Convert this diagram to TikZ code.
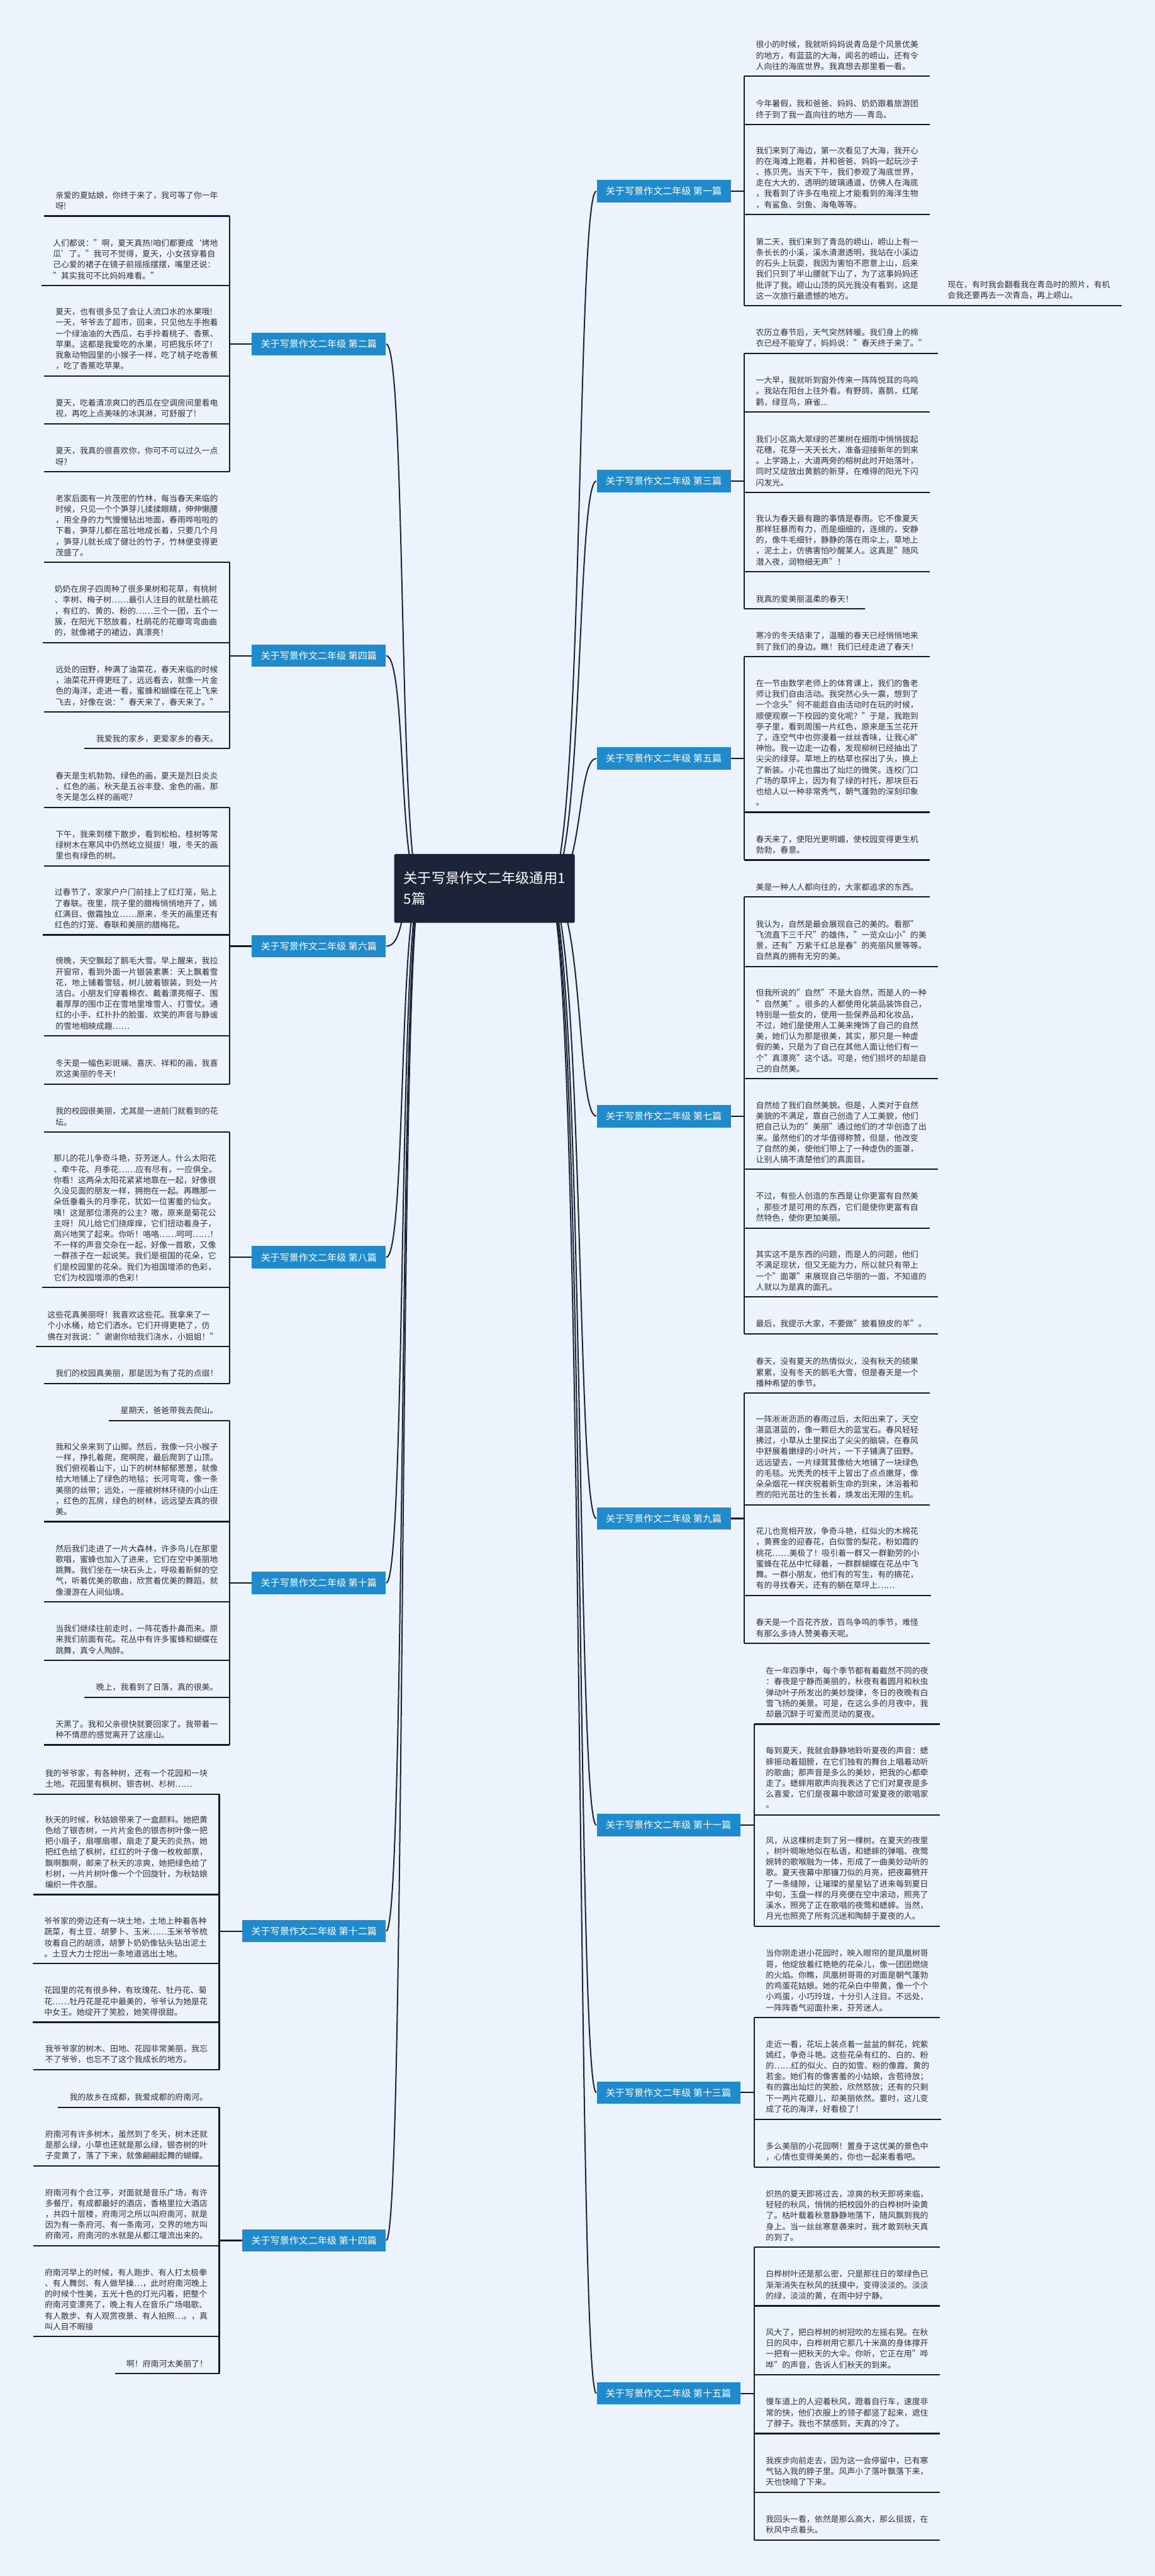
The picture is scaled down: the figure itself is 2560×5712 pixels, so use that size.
\documentclass[tikz,border=0pt]{standalone}
\usepackage{fontspec}
\setmainfont{Noto Sans CJK SC}
\definecolor{paper}{RGB}{237,243,253}
\definecolor{tagblue}{RGB}{32,139,204}
\definecolor{rootnavy}{RGB}{27,36,56}
\definecolor{inkline}{RGB}{22,24,40}
\definecolor{leaftext}{RGB}{50,50,50}
\pgfdeclarelayer{back}
\pgfsetlayers{back,main}
\tikzset{
  leafbox/.style={inner xsep=2.5mm, inner ysep=1.3mm, align=left, text=leaftext, font=\fontsize{5.12pt}{6.83pt}\selectfont},
  leafR/.style={leafbox, anchor=south west},
  leafL/.style={leafbox, anchor=south east},
  tagbox/.style={fill=tagblue, text=white, inner xsep=2mm, inner ysep=1.5mm, font=\fontsize{5.98pt}{7pt}\selectfont},
  tagR/.style={tagbox, anchor=west},
  tagL/.style={tagbox, anchor=east},
  rootbox/.style={fill=rootnavy, text=white, align=left, inner xsep=2.1mm, inner ysep=3.9mm, rounded corners=0.4mm, font=\fontsize{8.82pt}{13.1pt}\selectfont},
  uline/.style={draw=inkline, line width=0.85pt},
  crv/.style={draw=rootnavy, line width=0.8pt}
}
\begin{document}
\begin{tikzpicture}[x=0.01cm,y=-0.01cm]
\begin{pgfonlayer}{back}
\fill[paper] (0,0) rectangle (2560,5712);
\end{pgfonlayer}
\node[rootbox] (root) at (1074,1970) {关于写景作文二年级通用1\\5篇};

\node[tagR] (b1) at (1322,424) {关于写景作文二年级 第一篇};
\node[tagL] (b2) at (856,763) {关于写景作文二年级 第二篇};
\node[tagR] (b3) at (1322,1067) {关于写景作文二年级 第三篇};
\node[tagL] (b4) at (856,1454) {关于写景作文二年级 第四篇};
\node[tagR] (b5) at (1322,1682) {关于写景作文二年级 第五篇};
\node[tagL] (b6) at (856,2098) {关于写景作文二年级 第六篇};
\node[tagR] (b7) at (1322,2475) {关于写景作文二年级 第七篇};
\node[tagL] (b8) at (856,2788) {关于写景作文二年级 第八篇};
\node[tagR] (b9) at (1322,3367) {关于写景作文二年级 第九篇};
\node[tagL] (b10) at (856,3510) {关于写景作文二年级 第十篇};
\node[tagR] (b11) at (1322,4047) {关于写景作文二年级 第十一篇};
\node[tagL] (b12) at (856,4282) {关于写景作文二年级 第十二篇};
\node[tagR] (b13) at (1322,4640) {关于写景作文二年级 第十三篇};
\node[tagL] (b14) at (856,4968) {关于写景作文二年级 第十四篇};
\node[tagR] (b15) at (1322,5307) {关于写景作文二年级 第十五篇};

\node[leafR] (r1a) at (1650,169) {很小的时候，我就听妈妈说青岛是个风景优美\\的地方，有蓝蓝的大海，闻名的崂山，还有令\\人向往的海底世界。我真想去那里看一看。};
\node[leafR] (r1b) at (1650,276) {今年暑假，我和爸爸、妈妈、奶奶跟着旅游团\\终于到了我一直向往的地方——青岛。};
\node[leafR] (r1c) at (1650,476) {我们来到了海边，第一次看见了大海，我开心\\的在海滩上跑着，并和爸爸、妈妈一起玩沙子\\、拣贝壳。当天下午，我们参观了海底世界，\\走在大大的、透明的玻璃通道，仿佛人在海底\\，我看到了许多在电视上才能看到的海洋生物\\，有鲨鱼、剑鱼、海龟等等。};
\node[leafR] (r1d) at (1650,678) {第二天，我们来到了青岛的崂山，崂山上有一\\条长长的小溪，溪水清澈透明，我站在小溪边\\的石头上玩耍，我因为害怕不愿意上山，后来\\我们只到了半山腰就下山了，为了这事妈妈还\\批评了我。崂山山顶的风光我没有看到，这是\\这一次旅行最遗憾的地方。};
\node[leafR] (r1x) at (2075,678) {现在，有时我会翻看我在青岛时的照片，有机\\会我还要再去一次青岛，再上崂山。};

\node[leafR] (r3a) at (1650,784) {农历立春节后，天气突然转暖。我们身上的棉\\衣已经不能穿了，妈妈说："春天终于来了。"};
\node[leafR] (r3b) at (1650,914) {一大早，我就听到窗外传来一阵阵悦耳的鸟鸣\\。我站在阳台上往外看。有野鸽，喜鹊，红尾\\鹳，绿豆鸟，麻雀...};
\node[leafR] (r3c) at (1650,1092) {我们小区高大翠绿的芒果树在细雨中悄悄拔起\\花穗，花芽一天天长大，准备迎接新年的到来\\。上学路上，大道两旁的榕树此时开始落叶，\\同时又绽放出黄鹅的新芽，在难得的阳光下闪\\闪发光。};
\node[leafR] (r3d) at (1650,1268) {我认为春天最有趣的事情是春雨。它不像夏天\\那样狂暴而有力，而是细细的，连绵的，安静\\的，像牛毛细针，静静的落在雨伞上，草地上\\，泥土上，仿佛害怕吵醒某人。这真是"随风\\潜入夜，润物细无声"！};
\node[leafR] (r3e) at (1650,1350) {我真的爱美丽温柔的春天！};

\node[leafR] (r5a) at (1650,1456) {寒冷的冬天结束了，温暖的春天已经悄悄地来\\到了我们的身边。瞧！我们已经走进了春天！};
\node[leafR] (r5b) at (1650,1801) {在一节由数学老师上的体育课上，我们的鲁老\\师让我们自由活动。我突然心头一震，想到了\\一个念头"何不能趁自由活动时在玩的时候，\\顺便观察一下校园的变化呢？"于是，我跑到\\亭子里，看到周围一片红色，原来是玉兰花开\\了，连空气中也弥漫着一丝丝香味，让我心旷\\神怡。我一边走一边看，发现柳树已经抽出了\\尖尖的绿芽。草地上的枯草也探出了头，换上\\了新装。小花也露出了灿烂的微笑。连校门口\\广场的草坪上，因为有了绿的衬托，那块巨石\\也给人以一种非常秀气，朝气蓬勃的深刻印象\\。};
\node[leafR] (r5c) at (1650,1907) {春天来了，使阳光更明媚，使校园变得更生机\\勃勃，春意。};

\node[leafR] (r7a) at (1650,1989) {美是一种人人都向往的，大家都追求的东西。};
\node[leafR] (r7b) at (1650,2143) {我认为，自然是最会展现自己的美的。看那"\\飞流直下三千尺"的雄伟，"一览众山小"的美\\景，还有"万紫千红总是春"的亮丽风景等等。\\自然真的拥有无穷的美。};
\node[leafR] (r7c) at (1650,2392) {但我所说的"自然"不是大自然，而是人的一种\\"自然美"。很多的人都使用化装品装饰自己，\\特别是一些女的，使用一些保养品和化妆品，\\不过，她们是使用人工美来掩饰了自己的自然\\美，她们认为那是很美，其实，那只是一种虚\\假的美，只是为了自己在其他人面让他们有一\\个"真漂亮"这个话。可是，他们损坏的却是自\\己的自然美。};
\node[leafR] (r7d) at (1650,2593) {自然给了我们自然美貌。但是，人类对于自然\\美貌的不满足，靠自己创造了人工美貌，他们\\把自己认为的"美丽"通过他们的才华创造了出\\来。虽然他们的才华值得称赞，但是，他改变\\了自然的美，使他们带上了一种虚伪的面罩，\\让别人搞不清楚他们的真面目。};
\node[leafR] (r7e) at (1650,2723) {不过，有些人创造的东西是让你更富有自然美\\，那些才是可用的东西，它们是使你更富有自\\然特色，使你更加美丽。};
\node[leafR] (r7f) at (1650,2876) {其实这不是东西的问题，而是人的问题，他们\\不满足现状，但又无能为力，所以就只有带上\\一个"面罩"来展现自己华丽的一面，不知道的\\人就以为是真的面孔。};
\node[leafR] (r7g) at (1650,2958) {最后，我提示大家，不要做"披着狼皮的羊"。};

\node[leafR] (r9a) at (1650,3089) {春天，没有夏天的热情似火，没有秋天的硕果\\累累，没有冬天的鹅毛大雪，但是春天是一个\\播种希望的季节。};
\node[leafR] (r9b) at (1650,3337) {一阵淅淅沥沥的春雨过后，太阳出来了，天空\\湛蓝湛蓝的，像一颗巨大的蓝宝石。春风轻轻\\拂过，小草从土里探出了尖尖的脑袋，在春风\\中舒展着嫩绿的小叶片，一下子铺满了田野。\\远远望去，一片绿茸茸像给大地铺了一块绿色\\的毛毯。光秃秃的枝干上冒出了点点嫩芽，像\\朵朵烟花一样庆祝着新生命的到来，沐浴着和\\煦的阳光茁壮的生长着，焕发出无限的生机。};
\node[leafR] (r9c) at (1650,3538) {花儿也竞相开放，争奇斗艳，红似火的木棉花\\，黄赛金的迎春花，白似雪的梨花，粉如霞的\\桃花……美极了！吸引着一群又一群勤劳的小\\蜜蜂在花丛中忙碌着，一群群蝴蝶在花丛中飞\\舞。一群小朋友，他们有的写生，有的摘花，\\有的寻找春天，还有的躺在草坪上……};
\node[leafR] (r9d) at (1650,3644) {春天是一个百花齐放，百鸟争鸣的季节，难怪\\有那么多诗人赞美春天呢。};

\node[leafR] (r11a) at (1672,3823) {在一年四季中，每个季节都有着截然不同的夜\\：春夜是宁静而美丽的，秋夜有着圆月和秋虫\\弹动叶子所发出的美妙旋律，冬日的夜晚有白\\雪飞扬的美景。可是，在这么多的月夜中，我\\却最沉醉于可爱而灵动的夏夜。};
\node[leafR] (r11b) at (1672,4024) {每到夏天，我就会静静地聆听夏夜的声音：蟋\\蟀振动着翅膀，在它们独有的舞台上唱着动听\\的歌曲；那声音是多么的美妙，把我的心都牵\\走了。蟋蟀用歌声向我表达了它们对夏夜是多\\么喜爱，它们是夜幕中歌颂可爱夏夜的歌唱家\\。};
\node[leafR] (r11c) at (1672,4271) {风，从这棵树走到了另一棵树。在夏天的夜里\\，树叶啁啾地似在私语，和蟋蟀的弹唱、夜莺\\婉转的歌喉融为一体，形成了一曲美妙动听的\\歌。夏天夜幕中那镰刀似的月亮，把夜幕劈开\\了一条缝隙，让璀璨的星星钻了进来每到夏日\\中旬，玉盘一样的月亮便在空中滚动，照亮了\\溪水，照亮了正在歌唱的夜莺和蟋蟀。当然，\\月光也照亮了所有沉迷和陶醉于夏夜的人。};

\node[leafR] (r13a) at (1672,4474) {当你刚走进小花园时，映入眼帘的是凤凰树哥\\哥，他绽放着红艳艳的花朵儿，像一团团燃烧\\的火焰。你瞧，凤凰树哥哥的对面是朝气蓬勃\\的鸡蛋花姑娘。她的花朵白中带黄，像一个个\\小鸡蛋，小巧玲珑，十分引人注目。不远处，\\一阵阵香气迎面扑来，芬芳迷人。};
\node[leafR] (r13b) at (1672,4699) {走近一看，花坛上装点着一盆盆的鲜花，姹紫\\嫣红，争奇斗艳。这些花朵有红的、白的、粉\\的……红的似火、白的如雪、粉的像霞、黄的\\若金。她们有的像害羞的小姑娘，含苞待放；\\有的露出灿烂的笑脸，欣然怒放；还有的只剩\\下一两片花瓣儿，却美丽依然。霎时，这儿变\\成了花的海洋，好看极了！};
\node[leafR] (r13c) at (1672,4805) {多么美丽的小花园啊！置身于这优美的景色中\\，心情也变得美美的，你也一起来看看吧。};

\node[leafR] (r15a) at (1672,4983) {炽热的夏天即将过去，凉爽的秋天即将来临，\\轻轻的秋风，悄悄的把校园外的白桦树叶染黄\\了。枯叶载着秋意静静地落下，随风飘到我的\\身上。当一丝丝寒意袭来时，我才敢到秋天真\\的到了。};
\node[leafR] (r15b) at (1672,5113) {白桦树叶还是那么密，只是那往日的翠绿色已\\渐渐消失在秋风的抚摸中，变得淡淡的。淡淡\\的绿，淡淡的黄，在雨中好宁静。};
\node[leafR] (r15c) at (1672,5266) {风大了，把白桦树的树冠吹的左摇右晃。在秋\\日的风中，白桦树用它那几十米高的身体撑开\\一把有一把秋天的大伞。你听，它正在用"哗\\哗"的声音，告诉人们秋天的到来。};
\node[leafR] (r15d) at (1672,5396) {慢车道上的人迎着秋风，蹬着自行车，速度非\\常的快，他们衣服上的领子都竖了起来，遮住\\了脖子。我也不禁感到，天真的冷了。};
\node[leafR] (r15e) at (1672,5526) {我疾步向前走去，因为这一会停留中，已有寒\\气钻入我的脖子里。风声小了落叶飘落下来，\\天也快暗了下来。};
\node[leafR] (r15f) at (1672,5632) {我回头一看，依然是那么高大，那么挺拔，在\\秋风中点着头。};

\node[leafL] (l2a) at (509,479) {亲爱的夏姑娘，你终于来了，我可等了你一年\\呀!};
\node[leafL] (l2b) at (509,633) {人们都说："啊，夏天真热!咱们都要成‘烤地\\瓜’了。"我可不觉得，夏天，小女孩穿着自\\己心爱的裙子在镜子前摇摇摆摆，嘴里还说：\\"其实我可不比妈妈难看。"};
\node[leafL] (l2c) at (509,834) {夏天，也有很多见了会让人流口水的水果哦!\\一天，爷爷去了超市，回来，只见他左手抱着\\一个绿油油的大西瓜，右手拎着桃子、香蕉、\\苹果。这都是我爱吃的水果，可把我乐坏了!\\我象动物园里的小猴子一样，吃了桃子吃香蕉\\，吃了香蕉吃苹果。};
\node[leafL] (l2d) at (509,940) {夏天，吃着清凉爽口的西瓜在空调房间里看电\\视，再吃上点美味的冰淇淋，可舒服了!};
\node[leafL] (l2e) at (509,1046) {夏天，我真的很喜欢你，你可不可以过久一点\\呀?};

\node[leafL] (l4a) at (509,1247) {老家后面有一片茂密的竹林，每当春天来临的\\时候，只见一个个笋芽儿揉揉眼睛，伸伸懒腰\\，用全身的力气慢慢钻出地面，春雨哗啦啦的\\下着，笋芽儿都在茁壮地成长着，只要几个月\\，笋芽儿就长成了健壮的竹子，竹林便变得更\\茂盛了。};
\node[leafL] (l4b) at (509,1425) {奶奶在房子四周种了很多果树和花草，有桃树\\、李树、梅子树……最引人注目的就是杜鹃花\\，有红的、黄的、粉的……三个一团，五个一\\簇，在阳光下怒放着，杜鹃花的花瓣弯弯曲曲\\的，就像裙子的裙边，真漂亮！};
\node[leafL] (l4c) at (509,1579) {远处的田野，种满了油菜花，春天来临的时候\\，油菜花开得更旺了，远远看去，就像一片金\\色的海洋，走进一看，蜜蜂和蝴蝶在花上飞来\\飞去，好像在说："春天来了，春天来了。"};
\node[leafL] (l4d) at (509,1660) {我爱我的家乡，更爱家乡的春天。};

\node[leafL] (l6a) at (509,1790) {春天是生机勃勃、绿色的画，夏天是烈日炎炎\\、红色的画，秋天是五谷丰登、金色的画，那\\冬天是怎么样的画呢？};
\node[leafL] (l6b) at (509,1920) {下午，我来到楼下散步，看到松柏、桂树等常\\绿树木在寒风中仍然屹立挺拔！哦，冬天的画\\里也有绿色的树。};
\node[leafL] (l6c) at (509,2073) {过春节了，家家户户门前挂上了红灯笼，贴上\\了春联。夜里，院子里的腊梅悄悄地开了，嫣\\红满目、傲霜独立……原来，冬天的画里还有\\红色的灯笼、春联和美丽的腊梅花。};
\node[leafL] (l6d) at (509,2297) {傍晚，天空飘起了鹅毛大雪。早上醒来，我拉\\开窗帘，看到外面一片银装素裹：天上飘着雪\\花，地上铺着雪毯，树儿披着银装，到处一片\\洁白。小朋友们穿着棉衣、戴着漂亮帽子、围\\着厚厚的围巾正在雪地里堆雪人、打雪仗。通\\红的小手、红扑扑的脸蛋、欢笑的声音与静谧\\的雪地相映成趣……};
\node[leafL] (l6e) at (509,2404) {冬天是一幅色彩斑斓、喜庆、祥和的画，我喜\\欢这美丽的冬天！};

\node[leafL] (l8a) at (509,2510) {我的校园很美丽，尤其是一进前门就看到的花\\坛。};
\node[leafL] (l8b) at (509,2855) {那儿的花儿争奇斗艳，芬芳迷人。什么太阳花\\、牵牛花、月季花……应有尽有，一应俱全。\\你看！这两朵太阳花紧紧地靠在一起，好像很\\久没见面的朋友一样，拥抱在一起。再瞧那一\\朵低垂着头的月季花，犹如一位害羞的仙女。\\咦！这是那位漂亮的公主？嗷，原来是菊花公\\主呀！风儿给它们挠痒痒，它们扭动着身子，\\高兴地笑了起来。你听！咯咯……呵呵……！\\不一样的声音交杂在一起，好像一首歌，又像\\一群孩子在一起说笑。我们是祖国的花朵，它\\们是校园里的花朵。我们为祖国增添的色彩，\\它们为校园增添的色彩！};
\node[leafL] (l8c) at (509,2986) {这些花真美丽呀！我喜欢这些花。我拿来了一\\个小水桶，给它们洒水。它们开得更艳了，仿\\佛在对我说："谢谢你给我们浇水，小姐姐！"};
\node[leafL] (l8d) at (509,3068) {我们的校园真美丽，那是因为有了花的点缀！};

\node[leafL] (l10a) at (509,3150) {星期天，爸爸带我去爬山。};
\node[leafL] (l10b) at (509,3374) {我和父亲来到了山脚。然后，我像一只小猴子\\一样，挣扎着爬，爬啊爬，最后爬到了山顶。\\我们俯视着山下，山下的树林郁郁葱葱，就像\\给大地铺上了绿色的地毯；长河弯弯，像一条\\美丽的丝带；远处，一座被树林环绕的小山庄\\，红色的瓦房，绿色的树林，远远望去真的很\\美。};
\node[leafL] (l10c) at (509,3552) {然后我们走进了一片大森林，许多鸟儿在那里\\歌唱，蜜蜂也加入了进来，它们在空中美丽地\\跳舞。我们坐在一块石头上，呼吸着新鲜的空\\气，听着优美的歌曲，欣赏着优美的舞蹈，就\\像漫游在人间仙境。};
\node[leafL] (l10d) at (509,3682) {当我们继续往前走时，一阵花香扑鼻而来。原\\来我们前面有花。花丛中有许多蜜蜂和蝴蝶在\\跳舞，真令人陶醉。};
\node[leafL] (l10e) at (509,3764) {晚上，我看到了日落，真的很美。};
\node[leafL] (l10f) at (509,3869) {天黑了。我和父亲很快就要回家了。我带着一\\种不情愿的感觉离开了这座山。};

\node[leafL] (l12a) at (486,3978) {我的爷爷家，有各种树，还有一个花园和一块\\土地。花园里有枫树、银杏树、杉树……};
\node[leafL] (l12b) at (486,4201) {秋天的时候，秋姑娘带来了一盒颜料。她把黄\\色给了银杏树，一片片金色的银杏树叶像一把\\把小扇子，扇哪扇哪，扇走了夏天的炎热，她\\把红色给了枫树，红红的叶子像一枚枚邮票，\\飘啊飘啊，邮来了秋天的凉爽，她把绿色给了\\杉树，一片片树叶像一个个回旋针，为秋姑娘\\编织一件衣服。};
\node[leafL] (l12c) at (486,4354) {爷爷家的旁边还有一块土地，土地上种着各种\\蔬菜，有土豆、胡萝卜、玉米……玉米爷爷梳\\妆着自己的胡须，胡萝卜奶奶像钻头钻出泥土\\。土豆大力士挖出一条地道逃出土地。};
\node[leafL] (l12d) at (486,4484) {花园里的花有很多种，有玫瑰花、牡丹花、菊\\花……牡丹花是花中最美的，爷爷认为她是花\\中女王。她绽开了笑脸，她笑得很甜。};
\node[leafL] (l12e) at (486,4589) {我爷爷家的树木、田地、花园非常美丽，我忘\\不了爷爷，也忘不了这个我成长的地方。};

\node[leafL] (l14a) at (486,4673) {我的故乡在成都，我爱成都的府南河。};
\node[leafL] (l14b) at (486,4803) {府南河有许多树木，虽然到了冬天，树木还就\\是那么绿，小草也还就是那么绿，银杏树的叶\\子变黄了，落了下来，就像翩翩起舞的蝴蝶。};
\node[leafL] (l14c) at (486,4980) {府南河有个合江亭，对面就是音乐广场，有许\\多餐厅，有成都最好的酒店，香格里拉大酒店\\，共四十层楼，府南河之所以叫府南河，就是\\因为有一条府河、有一条南河，交界的地方叫\\府南河，府南河的水就是从都江堰流出来的。};
\node[leafL] (l14d) at (486,5181) {府南河早上的时候，有人跑步、有人打太极拳\\、有人舞剑、有人做早操…，此时府南河晚上\\的时候个性美，五光十色的灯光闪着，把整个\\府南河变漂亮了，晚上有人在音乐广场唱歌、\\有人散步、有人观赏夜景、有人拍照…。，真\\叫人目不暇接};
\node[leafL] (l14e) at (486,5263) {啊！府南河太美丽了！};

\foreach \n in {r1a,r1b,r1c,r1d,r1x,r3a,r3b,r3c,r3d,r3e,r5a,r5b,r5c,r7a,r7b,r7c,r7d,r7e,r7f,r7g,r9a,r9b,r9c,r9d,r11a,r11b,r11c,r13a,r13b,r13c,r15a,r15b,r15c,r15d,r15e,r15f,l2a,l2b,l2c,l2d,l2e,l4a,l4b,l4c,l4d,l6a,l6b,l6c,l6d,l6e,l8a,l8b,l8c,l8d,l10a,l10b,l10c,l10d,l10e,l10f,l12a,l12b,l12c,l12d,l12e,l14a,l14b,l14c,l14d,l14e}
  \draw[uline] (\n.south west) -- (\n.south east);

\foreach \b/\f/\l in {b1/r1a/r1d,b3/r3a/r3e,b5/r5a/r5c,b7/r7a/r7g,b9/r9a/r9d,b11/r11a/r11c,b13/r13a/r13c,b15/r15a/r15f}{
  \draw[uline] (\f.south west) -- (\l.south west);
  \draw[uline] (\b.east) -- (\b.east -| \f.south west);
}
\foreach \b/\f/\l in {b2/l2a/l2e,b4/l4a/l4d,b6/l6a/l6e,b8/l8a/l8d,b10/l10a/l10f,b12/l12a/l12e,b14/l14a/l14e}{
  \draw[uline] (\f.south east) -- (\l.south east);
  \draw[uline] (\b.west) -- (\b.west -| \f.south east);
}
\draw[uline] (r1d.south east) -- (r1x.south west);

\begin{pgfonlayer}{back}
\foreach \b in {b1,b3,b5,b7,b9,b11,b13,b15}
  \draw[crv] ([xshift=-6mm]root.east) to[out=0,in=180,out distance=8mm,in distance=4.5mm] (\b.west);
\foreach \b in {b2,b4,b6,b8,b10,b12,b14}
  \draw[crv] ([xshift=6mm]root.west) to[out=180,in=0,out distance=5mm,in distance=4.5mm] (\b.east);
\end{pgfonlayer}
\end{tikzpicture}
\end{document}
